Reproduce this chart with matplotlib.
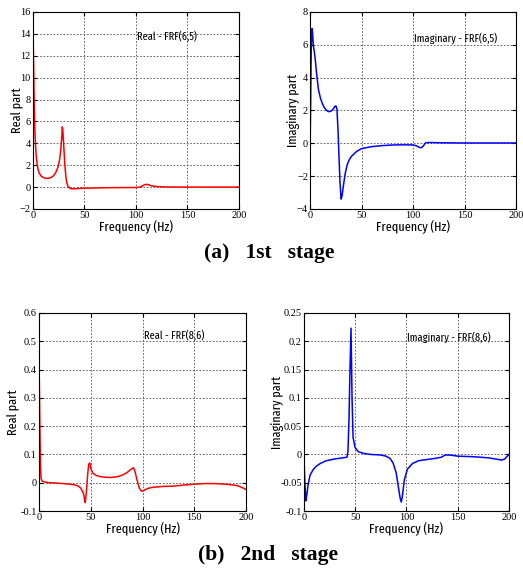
import matplotlib as mpl
mpl.use("Agg")
from matplotlib import pyplot as plt
from matplotlib import font_manager

names = set(f.name for f in font_manager.fontManager.ttflist)
narrow = 'Fira Sans Extra Condensed' if 'Fira Sans Extra Condensed' in names else 'Liberation Sans'
mpl.rcParams['font.family'] = [narrow, 'DejaVu Sans']

# (a) 1st stage, FRF(6,5)
f1 = [0, 0.5, 1, 1.5, 2, 3, 4, 5, 6, 8, 10, 12, 14, 16, 18, 20, 22, 24, 25, 26, 27, 28, 28.5, 29,
      30, 31, 32, 33, 34, 36, 38, 40, 45, 50, 60, 70, 80, 90, 100, 104, 106, 108, 110, 112, 115,
      120, 130, 150, 175, 200]
r1 = [14.8, 12.0, 9.0, 6.5, 4.8, 3.0, 2.1, 1.6, 1.3, 1.0, 0.88, 0.82, 0.80, 0.82, 0.9, 1.05, 1.3,
      1.75, 2.1, 2.6, 3.4, 4.6, 5.5, 5.2, 3.6, 2.0, 0.9, 0.35, 0.05, -0.12, -0.16, -0.15, -0.12,
      -0.1, -0.08, -0.06, -0.05, -0.04, -0.04, 0.0, 0.1, 0.2, 0.25, 0.22, 0.12, 0.05, 0.01, 0.0,
      0.0, 0.0]

f2 = [0, 0.5, 1, 1.5, 2, 2.5, 3, 4, 5, 6, 8, 10, 12, 14, 16, 18, 20, 22, 23, 24, 25, 26, 27, 28,
      29, 30, 31, 32, 34, 36, 38, 40, 45, 50, 60, 70, 80, 90, 100, 103, 106, 108, 110, 112, 115,
      130, 150, 200]
i2 = [0.0, 2.5, 5.5, 6.8, 7.0, 6.6, 6.0, 5.6, 5.1, 4.4, 3.3, 2.75, 2.4, 2.15, 2.0, 1.93, 1.95,
      2.05, 2.15, 2.25, 2.28, 2.1, 0.9, -0.8, -2.4, -3.4, -3.2, -2.7, -1.85, -1.3, -1.0, -0.8,
      -0.5, -0.32, -0.2, -0.14, -0.1, -0.09, -0.1, -0.15, -0.25, -0.27, -0.15, 0.03, 0.05, 0.03,
      0.02, 0.02]

# (b) 2nd stage, FRF(8,6)
f3 = [0, 0.5, 1, 1.5, 2, 3, 5, 10, 20, 30, 35, 38, 40, 42, 43, 44, 44.5, 45, 46, 47, 48, 49, 50,
      52, 55, 60, 65, 70, 75, 80, 85, 88, 90, 91, 92, 93, 95, 97, 99, 101, 105, 110, 120, 130,
      140, 150, 160, 170, 180, 190, 195, 200]
r3 = [0.42, 0.3, 0.15, 0.05, 0.015, 0.006, 0.003, 0.0, -0.002, -0.005, -0.008, -0.012, -0.018,
      -0.03, -0.04, -0.058, -0.07, -0.06, -0.02, 0.03, 0.065, 0.07, 0.05, 0.034, 0.026, 0.021,
      0.019, 0.019, 0.021, 0.026, 0.036, 0.045, 0.05, 0.053, 0.048, 0.035, 0.005, -0.02, -0.03,
      -0.028, -0.02, -0.016, -0.013, -0.012, -0.008, -0.005, -0.003, -0.003, -0.005, -0.009,
      -0.015, -0.024]

f4 = [0, 1, 2, 3, 4, 6, 9, 12, 16, 22, 30, 38, 42, 43, 44, 45, 46, 47, 48, 50, 53, 58, 65, 75,
      80, 84, 87, 90, 92, 94, 95, 96, 98, 101, 106, 112, 120, 128, 134, 138, 142, 150, 165, 180,
      190, 193, 196, 200]
i4 = [0.0, -0.05, -0.082, -0.07, -0.055, -0.037, -0.027, -0.021, -0.016, -0.011, -0.008, -0.006,
      -0.005, 0.005, 0.06, 0.15, 0.223, 0.1, 0.03, 0.012, 0.005, 0.002, 0.0, -0.001, -0.003,
      -0.007, -0.015, -0.032, -0.055, -0.078, -0.084, -0.075, -0.045, -0.026, -0.016, -0.011,
      -0.009, -0.007, -0.005, -0.001, -0.001, -0.003, -0.004, -0.006, -0.009, -0.01, -0.008, 0.0]

xticks = [0, 50, 100, 150, 200]
yt1 = [-2, 0, 2, 4, 6, 8, 10, 12, 14, 16]
yt2 = [-4, -2, 0, 2, 4, 6, 8]
yt3 = [-0.1, 0, 0.1, 0.2, 0.3, 0.4, 0.5, 0.6]
yl3 = ['-0.1', '0', '0.1', '0.2', '0.3', '0.4', '0.5', '0.6']
yt4 = [-0.1, -0.05, 0, 0.05, 0.1, 0.15, 0.2, 0.25]
yl4 = ['-0.1', '-0.05', '0', '0.05', '0.1', '0.15', '0.2', '0.25']

panels = [
    # x, y, color, rect, yticks, ylabels, ylabel, ylabel x, note, note pos
    (f1, r1, '#ff0000', [0.063, 0.634, 0.394, 0.345], yt1, None, 'Real part', -0.075,
     'Real - FRF(6,5)', (101, 13.8)),
    (f2, i2, '#0000ff', [0.593, 0.634, 0.394, 0.345], yt2, None, 'Imaginary part', -0.079,
     'Imaginary - FRF(6,5)', (101, 6.4)),
    (f3, r3, '#ff0000', [0.0746, 0.105, 0.396, 0.347], yt3, yl3, 'Real part', -0.121,
     'Real - FRF(8,6)', (101, 0.52)),
    (f4, i4, '#0000ff', [0.581, 0.105, 0.392, 0.347], yt4, yl4, 'Imaginary part', -0.127,
     'Imaginary - FRF(8,6)', (100.5, 0.208)),
]

fig = plt.figure(figsize=(5.23, 5.71), dpi=100)
for x, y, c, rect, yt, yl, ylab, ylx, note, pos in panels:
    ax = fig.add_axes(rect)
    ax.plot(x, y, color=c, lw=1.1)
    ax.set_xlim(0, 200)
    ax.set_ylim(yt[0], yt[-1])
    ax.set_xticks(xticks)
    ax.set_yticks(yt)
    if yl is not None:
        ax.set_yticklabels(yl)
    # tick numbers in the reference are a serif face
    for lab in ax.get_xticklabels() + ax.get_yticklabels():
        lab.set_family('Liberation Serif')
    ax.grid(True, color='0.3', linestyle=(0, (2, 2)), lw=0.6)
    ax.tick_params(direction='in', top=True, right=True, length=3, labelsize=7.5, pad=1.5)
    ax.set_xlabel('Frequency (Hz)', fontsize=9.5, labelpad=0)
    ax.set_ylabel(ylab, fontsize=9.5)
    ax.yaxis.set_label_coords(ylx, 0.5)
    ax.yaxis.label.set_va('center')
    ax.text(pos[0], pos[1], note, fontsize=8, va='center', ha='left')
    for s in ax.spines.values():
        s.set_linewidth(0.8)

fig.text(269 / 523, 1 - 253 / 571, '(a)   1st   stage', ha='center', va='center',
         fontsize=15.5, fontweight='bold', family='Liberation Serif')
fig.text(268 / 523, 1 - 555 / 571, '(b)   2nd   stage', ha='center', va='center',
         fontsize=15.5, fontweight='bold', family='Liberation Serif')

fig.savefig('out.png', dpi=100)
